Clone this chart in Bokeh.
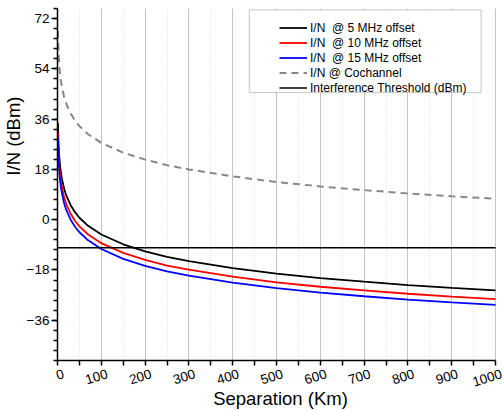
import math
from bokeh.plotting import figure
from bokeh.models import (Range1d, FixedTicker, Legend, LegendItem, BoxAnnotation,
                          LinearAxis, Title)
from bokeh.embed import file_html
from bokeh.resources import INLINE

# ---- data ----
dist_km = [1, 2, 3, 5, 7, 10, 15, 20, 30, 40, 50, 70, 100, 150, 200, 250, 300,
           400, 500, 600, 700, 800, 900, 1000]
in_5mhz = [34.7, 28.7, 25.2, 20.7, 17.8, 14.7, 11.2, 8.7, 5.2, 2.7, 0.7, -2.2,
           -5.3, -8.8, -11.3, -13.3, -14.8, -17.3, -19.3, -20.9, -22.2, -23.4, -24.4, -25.3]
in_10mhz = [31.6, 25.6, 22.1, 17.6, 14.7, 11.6, 8.1, 5.6, 2.1, -0.4, -2.4, -5.3,
            -8.4, -11.9, -14.4, -16.4, -17.9, -20.4, -22.4, -24.0, -25.3, -26.5, -27.5, -28.4]
in_15mhz = [29.5, 23.5, 20.0, 15.5, 12.6, 9.5, 6.0, 3.5, 0.0, -2.5, -4.5, -7.4,
            -10.5, -14.0, -16.5, -18.5, -20.0, -22.5, -24.5, -26.1, -27.4, -28.6, -29.6, -30.5]
in_cochannel = [67.5, 61.5, 58.0, 53.5, 50.6, 47.5, 44.0, 41.5, 38.0, 35.5, 33.5, 30.6,
                27.5, 24.0, 21.5, 19.5, 18.0, 15.5, 13.5, 11.9, 10.6, 9.4, 8.4, 7.5]
threshold_x = [0, 1000]
threshold_db = [-10, -10]

x_ticks = [0, 100, 200, 300, 400, 500, 600, 700, 800, 900, 1000]
x_minor = [50, 150, 250, 350, 450, 550, 650, 750, 850, 950]
y_ticks = [-36, -18, 0, 18, 36, 54, 72]
y_minor = [round(-50.4 + 3.6 * i, 1) for i in range(36)]

FONT = "Liberation Sans"
X_END = 1000 * 447 / 439      # frame runs a little past 1000, axis line stops at 1000
SHIFT = 13.7                  # label axis offset so slanted labels sit centred on ticks

p = figure(width=503, height=411, output_backend="svg", toolbar_location=None,
           x_range=Range1d(0, X_END), y_range=Range1d(-50.4, 75.6),
           min_border_left=56, min_border_right=0, min_border_top=8, min_border_bottom=20)
p.outline_line_color = None
p.background_fill_color = "white"
p.border_fill_color = "white"
p.extra_x_ranges = {"lbl": Range1d(-SHIFT, X_END - SHIFT)}

# grid
p.ygrid.visible = False
p.xgrid.ticker = FixedTicker(ticks=x_ticks, minor_ticks=x_minor)
p.xgrid.grid_line_color = "#c4c4c4"
p.xgrid.grid_line_width = 1
p.xgrid.minor_grid_line_color = "#dcdcdc"
p.xgrid.minor_grid_line_dash = "1 2"

# main axes
p.xaxis.ticker = FixedTicker(ticks=[], minor_ticks=sorted(x_ticks + x_minor))
p.xaxis.bounds = (0, 1000)
p.yaxis.ticker = FixedTicker(ticks=y_ticks, minor_ticks=y_minor)
for ax in (p.xaxis[0], p.yaxis[0]):
    ax.axis_line_color = "black"
    ax.axis_line_width = 1.5
    ax.major_tick_line_color = "black"
    ax.minor_tick_line_color = "black"
    ax.major_tick_line_width = 1.5
    ax.minor_tick_line_width = 1.5
    ax.major_tick_in = 0
    ax.minor_tick_in = 0
    ax.major_label_text_font = FONT
    ax.major_label_text_color = "black"

p.yaxis.major_tick_out = 6
p.yaxis.minor_tick_out = 4
p.yaxis.major_label_standoff = 2
p.yaxis.major_label_text_font_size = "13.5px"

p.xaxis.minor_tick_out = 5
p.xaxis.major_tick_out = 0
p.xaxis.major_label_standoff = 0

# label-only axis carrying the slanted tick labels and the x title
lab_axis = LinearAxis(x_range_name="lbl", ticker=FixedTicker(ticks=x_ticks),
                      axis_line_color=None, major_tick_line_color=None,
                      minor_tick_line_color=None, major_tick_out=0, minor_tick_out=0,
                      major_label_standoff=8, major_label_orientation=0.3,
                      major_label_text_font=FONT, major_label_text_font_size="13.5px",
                      major_label_text_color="black",
                      axis_label="Separation (Km)", axis_label_text_font=FONT,
                      axis_label_text_font_size="18.5px", axis_label_text_font_style="normal",
                      axis_label_text_color="black", axis_label_standoff=-6)
p.add_layout(lab_axis, "below")

# y title, placed toward the top like the reference
p.add_layout(Title(text="I/N (dBm)", align="right", offset=88, standoff=0,
                   text_font=FONT, text_font_size="18.5px", text_font_style="normal",
                   text_color="black"), "left")

# series
r5 = p.line(dist_km, in_5mhz, line_color="black", line_width=1.8)
r10 = p.line(dist_km, in_10mhz, line_color="#ff0000", line_width=1.8)
r15 = p.line(dist_km, in_15mhz, line_color="#0000ff", line_width=1.8)
rco = p.line(dist_km, in_cochannel, line_color="#888888", line_width=2, line_dash="7 5")
rth = p.line(threshold_x, threshold_db, line_color="black", line_width=1.5)

# legend frame
p.add_layout(BoxAnnotation(left=438, right=967, top=75.1, bottom=45.5,
                           fill_color="white", fill_alpha=1.0,
                           line_color="#444444", line_width=1))

legend = Legend(items=[
    LegendItem(label="I/N  @ 5 MHz offset", renderers=[r5]),
    LegendItem(label="I/N  @ 10 MHz offset", renderers=[r10]),
    LegendItem(label="I/N  @ 15 MHz offset", renderers=[r15]),
    LegendItem(label="I/N @ Cochannel", renderers=[rco]),
    LegendItem(label="Interference Threshold (dBm)", renderers=[rth]),
], location=(222, 265))
legend.padding = 0
legend.spacing = 0
legend.margin = 0
legend.border_line_alpha = 0
legend.background_fill_alpha = 0
legend.glyph_width = 28
legend.glyph_height = 15
legend.label_height = 15
legend.label_standoff = 3
legend.label_text_font = FONT
legend.label_text_font_size = "12px"
legend.label_text_color = "black"
legend.label_text_baseline = "middle"
p.add_layout(legend, "center")

open("out.html", "w").write(file_html(p, INLINE))
